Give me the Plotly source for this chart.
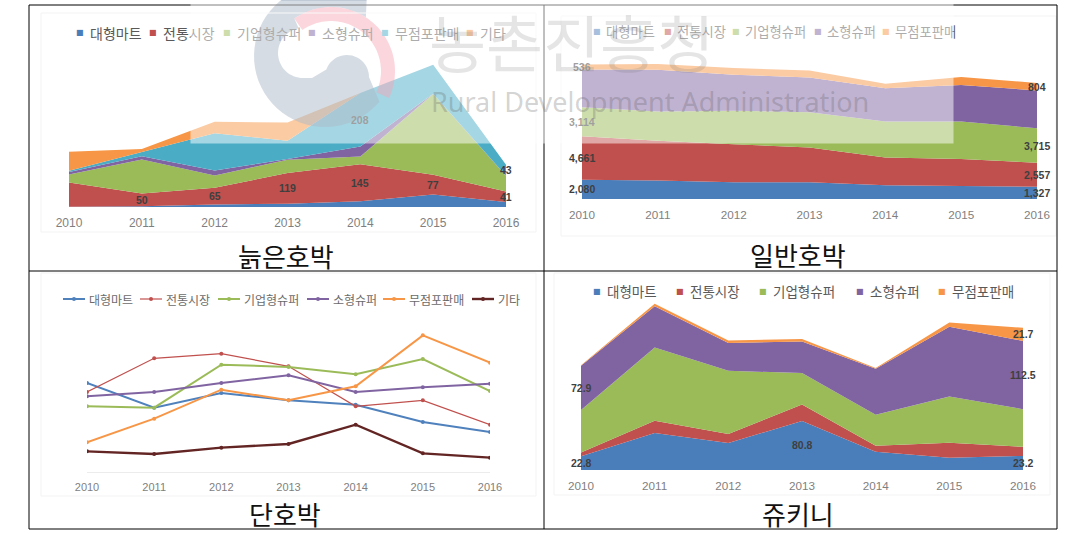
import numpy as np
import plotly.graph_objects as go

W, H = 1077, 535
years = [2010, 2011, 2012, 2013, 2014, 2015, 2016]
names6 = ["대형마트", "전통시장", "기업형슈퍼", "소형슈퍼", "무점포판매", "기타"]
colors = ["#4a7ebb", "#c0504d", "#9bbb59", "#8064a2", "#4bacc6", "#f79646"]
colors_p2 = ["#4a7ebb", "#c0504d", "#9bbb59", "#8064a2", "#f79646"]
line_colors = ["#4f81bd", "#c0504d", "#9bbb59", "#8064a2", "#f79646", "#632523"]

# 늙은호박
old_mart = [1, 3, 10, 13, 22, 49, 19]
old_market = [94, 50, 65, 119, 145, 77, 41]
old_ssm = [32, 132, 48, 52, 30, 314, 61]
old_small = [9, 13, 19, 3, 39, 1, 1]
old_store = [5, 16, 145, 71, 208, 113, 43]
old_etc = [74, 12, 45, 71, 0, 0, 0]
old_series = [old_mart, old_market, old_ssm, old_small, old_store, old_etc]

# 일반호박
reg_mart = [2080, 1980, 1800, 1800, 1470, 1400, 1327]
reg_market = [4661, 4265, 4086, 3728, 2975, 2900, 2557]
reg_ssm = [3114, 3150, 3580, 3800, 3870, 4010, 3715]
reg_small = [4050, 4480, 3870, 3730, 3580, 3940, 4050]
reg_store = [536, 610, 720, 750, 470, 860, 804]
reg_series = [reg_mart, reg_market, reg_ssm, reg_small, reg_store]

# 단호박
sw_mart = [267, 193, 237, 215, 202, 150, 120]
sw_market = [240, 341, 355, 317, 197, 215, 142]
sw_ssm = [197, 193, 322, 315, 293, 339, 243]
sw_small = [227, 240, 267, 290, 240, 254, 265]
sw_store = [89, 160, 247, 215, 257, 410, 328]
sw_etc = [62, 54, 73, 84, 142, 56, 43]
sw_series = [sw_mart, sw_market, sw_ssm, sw_small, sw_store, sw_etc]

# 쥬키니
zu_mart = [22.8, 61, 44.5, 80.8, 30, 20, 23.2]
zu_market = [6, 20, 15, 27, 10, 25, 15]
zu_ssm = [70, 121, 104, 52, 51, 76, 62]
zu_small = [72.9, 68, 46, 52, 76, 115, 112.5]
zu_store = [1, 4, 4, 4, 1, 7, 21.7]
zu_series = [zu_mart, zu_market, zu_ssm, zu_small, zu_store]

captions = ["늙은호박", "일반호박", "단호박", "쥬키니"]
watermark_ko = "농촌진흥청"
watermark_en = "Rural Development Administration"

fig = go.Figure()


def px(x):
    return x / W


def py(y):
    return 1 - y / H


panels = [
    dict(x=(69, 506), y=(207, 53), ymax=600, tick=12),
    dict(x=(582, 1037), y=(199, 50), ymax=16000, tick=11.7),
    dict(x=(87, 490), y=(472, 322), ymax=450, tick=11),
    dict(x=(581, 1023), y=(470, 288), ymax=300, tick=11.7),
]
for i, p in enumerate(panels):
    s = "" if i == 0 else str(i + 1)
    fig.update_layout(**{
        "xaxis" + s: dict(
            domain=[px(p["x"][0]), px(p["x"][1])], range=[2010, 2016],
            anchor="y" + s, tickvals=years, ticks="outside", ticklen=5,
            tickcolor="rgba(0,0,0,0)", showgrid=False, zeroline=False,
            showline=i == 2, linecolor="#ececec",
            tickfont=dict(family="Liberation Sans", size=p["tick"], color="#7f7f7f"),
        ),
        "yaxis" + s: dict(
            domain=[py(p["y"][0]), py(p["y"][1])], range=[0, p["ymax"]],
            anchor="x" + s, visible=False,
        ),
    })


def add_area(series, names, cols, idx):
    s = "" if idx == 0 else str(idx + 1)
    for v, n, c in zip(series, names, cols):
        fig.add_trace(go.Scatter(
            x=years, y=v, name=n, mode="none", stackgroup="g%d" % idx,
            fillcolor=c, showlegend=False, xaxis="x" + s, yaxis="y" + s,
        ))


add_area(old_series, names6, colors, 0)
add_area(reg_series, names6[:5], colors_p2, 1)
add_area(zu_series, names6[:5], colors_p2, 3)

widths = [2, 1.2, 2, 2, 2, 2.4]
for v, n, c, w in zip(sw_series, names6, line_colors, widths):
    fig.add_trace(go.Scatter(
        x=years, y=v, name=n, mode="lines+markers", showlegend=False,
        line=dict(color=c, width=w), marker=dict(color=c, size=4),
        xaxis="x3", yaxis="y3",
    ))

ann = []


def band_mid(series, k, j):
    below = sum(series[m][j] for m in range(k))
    return below + series[k][j] / 2


def label(series, idx, k, j, fmt):
    s = "" if idx == 0 else str(idx + 1)
    val = series[k][j]
    ann.append(dict(
        x=years[j], y=band_mid(series, k, j), xref="x" + s, yref="y" + s,
        text=fmt.format(val), showarrow=False, xanchor="center", yanchor="middle",
        font=dict(family="Liberation Sans", size=10.5, color="#3f3f3f", weight="bold"),
    ))


for k, j in [(1, 1), (1, 2), (1, 3), (1, 4), (1, 5), (1, 6), (4, 4), (4, 6)]:
    label(old_series, 0, k, j, "{:d}")
for k, j in [(0, 0), (1, 0), (2, 0), (4, 0), (0, 6), (1, 6), (2, 6), (4, 6)]:
    label(reg_series, 1, k, j, "{:,d}")
for k, j in [(0, 0), (0, 3), (0, 6), (3, 0), (3, 6), (4, 6)]:
    label(zu_series, 3, k, j, "{:.1f}")


def legend_text(n, x, y, size, color="#595959"):
    ann.append(dict(x=px(x), y=py(y), xref="paper", yref="paper", text=n,
                    showarrow=False, xanchor="left", yanchor="middle",
                    font=dict(family="Noto Sans CJK KR", size=size, color=color)))


def legend(names, cols, xs, y, size, gap):
    for n, c, x in zip(names, cols, xs):
        ann.append(dict(x=px(x), y=py(y), xref="paper", yref="paper", text="■",
                        showarrow=False, xanchor="center", yanchor="middle",
                        font=dict(family="DejaVu Sans", size=8, color=c)))
        legend_text(n, x + gap, y, size)


legend(names6, colors, [80, 153, 227, 312, 385, 470], 33, 14, 8)
legend(names6[:5], colors_p2, [597, 668, 736, 818, 886], 31, 13.3, 7)
legend(names6[:5], colors_p2, [597, 680, 763, 860, 942], 291, 13.5, 8)

for t, x, y in zip(captions, [286, 798, 285, 798], [256, 255, 513, 513]):
    ann.append(dict(x=px(x), y=py(y), xref="paper", yref="paper", text=t, showarrow=False,
                    xanchor="center", yanchor="middle",
                    font=dict(family="Noto Sans CJK KR", size=26, color="#111111")))

ann.append(dict(x=px(190), y=1, xref="paper", yref="paper", text="&#160;", showarrow=False,
                xanchor="left", yanchor="top", width=762, height=142, borderpad=0,
                bgcolor="rgba(255,255,255,0.5)"))
ann.append(dict(x=px(427), y=py(41), xref="paper", yref="paper", text=watermark_ko,
                showarrow=False, xanchor="left", yanchor="middle",
                font=dict(family="Noto Sans CJK KR", size=62, color="rgba(110,110,110,0.18)")))
ann.append(dict(x=px(429), y=py(101), xref="paper", yref="paper", text=watermark_en,
                showarrow=False, xanchor="left", yanchor="middle",
                font=dict(family="Noto Sans", size=27, color="rgba(90,90,90,0.27)")))


def path(points):
    return "M" + "L".join("%.4f,%.4f" % (px(a), py(b)) for a, b in points) + "Z"


def arc(cx, cy, r, a0, a1, n=50):
    t = np.radians(np.linspace(a0, a1, n))
    return list(zip(cx + r * np.cos(t), cy - r * np.sin(t)))


gray = (arc(325, 56, 71, 54, 320)
        + arc(347, 77, 22, 0, 160, 24)
        + [(312, 78), (302, 78)]
        + arc(303, 53, 25, 265, 100, 30)
        + arc(331, 71, 64, 125, 57, 20))
pink = arc(331, 71, 64, -25, 125) + arc(331, 71, 50, 125, -25)

shapes = [
    dict(type="path", xref="paper", yref="paper", path=path(gray),
         fillcolor="rgba(88,115,145,0.5)", line=dict(width=0)),
    dict(type="path", xref="paper", yref="paper", path=path(pink),
         fillcolor="rgba(238,72,105,0.45)", line=dict(width=0)),
]
# faint frames of the four pasted charts
for x0, y0, x1, y1 in [(41, 13, 536, 232), (561, 16, 1056, 236), (41, 273, 536, 496), (554, 273, 1050, 495)]:
    shapes.append(dict(type="rect", xref="paper", yref="paper", x0=px(x0), x1=px(x1),
                       y0=py(y0), y1=py(y1), line=dict(color="#f3f3f3", width=1)))
for x0, y0, x1, y1 in [(29, 5, 1057, 5), (29, 271, 1057, 271), (29, 529, 1057, 529),
                       (29, 5, 29, 529), (544, 5, 544, 529), (1057, 5, 1057, 529)]:
    shapes.append(dict(type="line", xref="paper", yref="paper", x0=px(x0), x1=px(x1),
                       y0=py(y0), y1=py(y1), line=dict(color="#000000", width=1)))

# line-chart legend: short swatches as in the reference
sw_legend_x = [63, 140, 218, 307, 383, 472]
sw_legend_y = 299
for n, c, w, x in zip(names6, line_colors, widths, sw_legend_x):
    shapes.append(dict(type="line", xref="paper", yref="paper", x0=px(x), x1=px(x + 22),
                       y0=py(sw_legend_y), y1=py(sw_legend_y), line=dict(color=c, width=w)))
    shapes.append(dict(type="circle", xref="paper", yref="paper", x0=px(x + 9), x1=px(x + 13),
                       y0=py(sw_legend_y - 2), y1=py(sw_legend_y + 2), fillcolor=c, line=dict(width=0)))
    legend_text(n, x + 24, sw_legend_y, 12, "#6b6b6b")

fig.update_layout(
    width=W, height=H, margin=dict(l=0, r=0, t=0, b=0, autoexpand=False), autosize=False,
    paper_bgcolor="white", plot_bgcolor="rgba(0,0,0,0)",
    annotations=ann, shapes=shapes, showlegend=False,
)

fig.write_html("out.html", config=dict(displayModeBar=False),
               post_script="document.body.style.margin='0';document.documentElement.style.overflow='hidden';")
